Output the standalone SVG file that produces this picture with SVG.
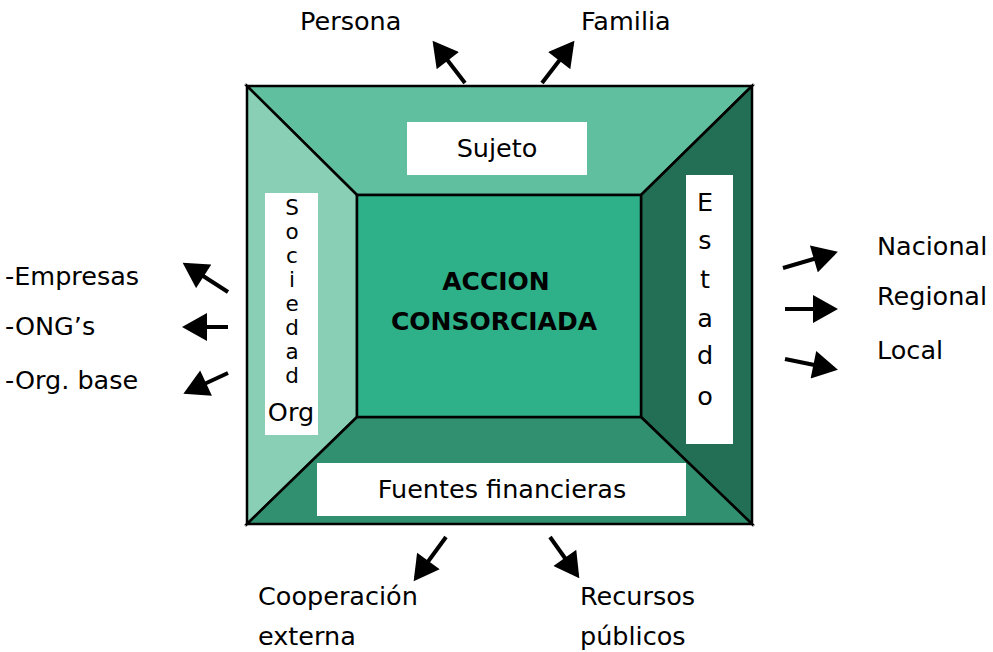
<svg xmlns="http://www.w3.org/2000/svg" width="993" height="652" viewBox="0 0 993 652">
<style>
.t{font-family:"DejaVu Sans","Liberation Sans",sans-serif;font-size:25.5px;fill:#000}
.v{font-size:21.5px}
.c{text-anchor:middle}
.b{font-weight:bold;font-size:25px}
.box{fill:#fff}
.edge{stroke:#000;stroke-width:2.5;stroke-linejoin:miter}
.arr{stroke:#000;stroke-width:4;fill:none;marker-end:url(#ah)}
</style>
<defs>
<marker id="ah" markerUnits="userSpaceOnUse" markerWidth="26" markerHeight="28" viewBox="0 0 25 28" refX="21" refY="14" orient="auto">
<path d="M0,0 L25,14 L0,28 Z" fill="#000"/>
</marker>
</defs>
<g id="frame">
<polygon class="edge" points="247,86 752,86 641,195 357,195" fill="#5FBF9F"/>
<polygon class="edge" points="247,86 357,195 357,417 247,524" fill="#88CFB5"/>
<polygon class="edge" points="752,86 752,524 641,417 641,195" fill="#236F55"/>
<polygon class="edge" points="247,524 357,417 641,417 752,524" fill="#319070"/>
</g>
<g id="center">
<rect class="edge" x="357" y="195" width="284" height="222" fill="#2EB088"/>
<text class="t c b" x="496" y="290">ACCION</text>
<text class="t c b" x="494" y="330">CONSORCIADA</text>
</g>
<g id="sujeto">
<rect class="box" x="407" y="122" width="180" height="53"/>
<text class="t c" x="497" y="157">Sujeto</text>
</g>
<g id="sociedad">
<rect class="box" x="265" y="193" width="53" height="242"/>
<text class="t c v" x="292" y="215">S</text>
<text class="t c v" x="292" y="239">o</text>
<text class="t c v" x="292" y="263">c</text>
<text class="t c v" x="292" y="287">i</text>
<text class="t c v" x="292" y="311">e</text>
<text class="t c v" x="292" y="335">d</text>
<text class="t c v" x="292" y="359">a</text>
<text class="t c v" x="292" y="383">d</text>
<text class="t c" x="291" y="421">Org</text>
</g>
<g id="estado">
<rect class="box" x="686" y="175" width="47" height="269"/>
<text class="t c" x="705" y="211">E</text>
<text class="t c" x="705" y="249">s</text>
<text class="t c" x="705" y="288">t</text>
<text class="t c" x="705" y="327">a</text>
<text class="t c" x="705" y="364">d</text>
<text class="t c" x="705" y="405">o</text>
</g>
<g id="fuentes">
<rect class="box" x="317" y="463" width="369" height="53"/>
<text class="t c" x="502" y="498">Fuentes financieras</text>
</g>
<g id="connectors">
<line class="arr" x1="465" y1="83" x2="435" y2="44"/>
<line class="arr" x1="542" y1="83" x2="572" y2="44"/>
<line class="arr" x1="228" y1="292" x2="186" y2="265"/>
<line class="arr" x1="228" y1="327" x2="186" y2="327"/>
<line class="arr" x1="228" y1="373" x2="187" y2="392"/>
<line class="arr" x1="783" y1="268" x2="834" y2="253"/>
<line class="arr" x1="785" y1="309" x2="834" y2="309"/>
<line class="arr" x1="785" y1="359" x2="834" y2="369"/>
<line class="arr" x1="446" y1="537" x2="416" y2="578"/>
<line class="arr" x1="550" y1="537" x2="577" y2="575"/>
</g>
<g id="labels">
<text class="t" x="300" y="30">Persona</text>
<text class="t" x="581" y="30">Familia</text>
<text class="t" x="5" y="285">-Empresas</text>
<text class="t" x="5" y="335">-ONG’s</text>
<text class="t" x="5" y="389">-Org. base</text>
<text class="t" x="877" y="255">Nacional</text>
<text class="t" x="877" y="305">Regional</text>
<text class="t" x="877" y="359">Local</text>
<text class="t" x="258" y="605">Cooperación</text>
<text class="t" x="258" y="645">externa</text>
<text class="t" x="580" y="605">Recursos</text>
<text class="t" x="580" y="645">públicos</text>
</g>
</svg>
